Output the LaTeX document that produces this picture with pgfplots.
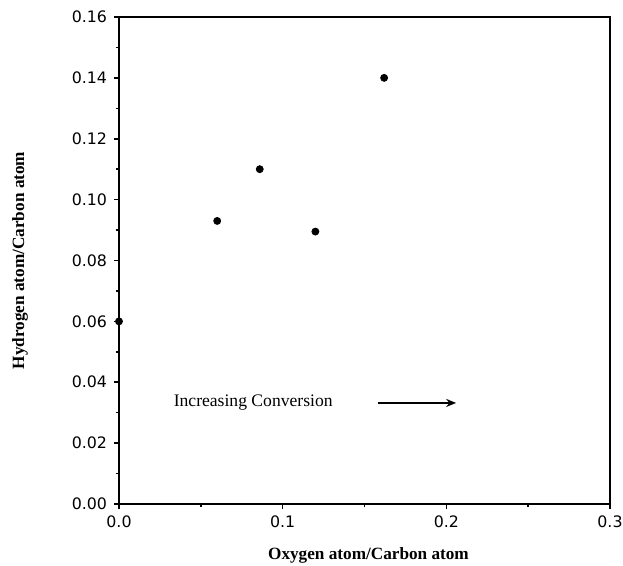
\documentclass[border=0pt]{standalone}
\usepackage{fontspec}
\setmainfont{Liberation Serif}
\newfontfamily\tickfont{DejaVu Sans}
\usepackage{pgfplots}
\usetikzlibrary{arrows.meta}
\pgfplotsset{compat=1.18}
\begin{document}
\begin{tikzpicture}
\begin{axis}[
  scale only axis,
  width=245.5pt, height=243.5pt,
  xmin=0, xmax=0.3, ymin=0, ymax=0.16,
  axis line style={line width=0.9pt},
  xtick={0,0.1,0.2,0.3},
  ytick={0,0.02,0.04,0.06,0.08,0.10,0.12,0.14,0.16},
  minor xtick={0.05,0.15,0.25},
  minor ytick={0.01,0.03,0.05,0.07,0.09,0.11,0.13,0.15},
  xtick pos=bottom, ytick pos=left,
  tick align=outside,
  major tick length=2.5pt, minor tick length=1.5pt,
  every tick/.style={black, line width=0.8pt},
  xticklabel style={/pgf/number format/fixed, /pgf/number format/precision=1, /pgf/number format/fixed zerofill},
  yticklabel style={/pgf/number format/fixed, /pgf/number format/precision=2, /pgf/number format/fixed zerofill},
  /pgf/number format/assume math mode=true,
  tick label style={font=\tickfont\fontsize{7.9}{9}\selectfont},
  scaled ticks=false,
  clip=false,
]
\addplot[only marks, mark=*, mark size=1.75pt, black] coordinates {
  (0,0.060) (0.060,0.093) (0.086,0.110) (0.120,0.0895) (0.162,0.140)
};
\node[font=\fontsize{8.8}{10}\selectfont] at (axis cs:0.082,0.0332) {Increasing Conversion};
\draw[-{Stealth[length=5pt,width=4pt]}, line width=0.8pt] (axis cs:0.158,0.0332) -- (axis cs:0.206,0.0332);
\node[font=\bfseries\fontsize{8.6}{10}\selectfont, anchor=center, yshift=-25.5pt, xshift=2pt] at (rel axis cs:0.5,0) {Oxygen atom/Carbon atom};
\node[font=\bfseries\fontsize{8.6}{10}\selectfont, anchor=center, xshift=-49.5pt, rotate=90] at (rel axis cs:0,0.5) {Hydrogen atom/Carbon atom};
\coordinate (sw) at (rel axis cs:0,0);
\end{axis}
\pgfresetboundingbox
\path[use as bounding box] (sw) ++(-59.5pt,-31pt) rectangle ++(311.5pt,283pt);
\end{tikzpicture}
\end{document}
